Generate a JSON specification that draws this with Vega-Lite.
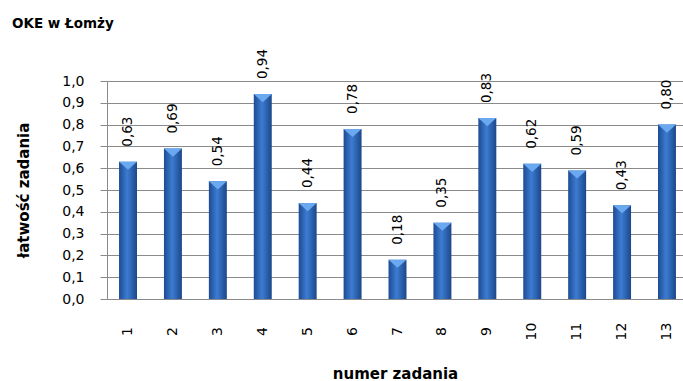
{
  "$schema": "https://vega.github.io/schema/vega-lite/v6.json",
  "width": 576,
  "height": 218,
  "autosize": {"type": "none"},
  "padding": {"left": 107, "top": 81, "right": 0, "bottom": 82},
  "background": "white",
  "config": {
    "locale": {"number": {"decimal": ",", "thousands": " ", "grouping": [3], "currency": ["", " zł"]}},
    "view": {"stroke": null},
    "font": "DejaVu Sans"
  },
  "title": {
    "text": "OKE w Łomży",
    "anchor": "start",
    "frame": "group",
    "dx": -95,
    "offset": 0,
    "baseline": "alphabetic",
    "dy": -8,
    "font": "DejaVu Sans",
    "fontWeight": "bold",
    "fontSize": 13.5,
    "color": "black"
  },
  "data": {
    "values": [
      {"zad": "1", "v": 0.63},
      {"zad": "2", "v": 0.69},
      {"zad": "3", "v": 0.54},
      {"zad": "4", "v": 0.94},
      {"zad": "5", "v": 0.44},
      {"zad": "6", "v": 0.78},
      {"zad": "7", "v": 0.18},
      {"zad": "8", "v": 0.35},
      {"zad": "9", "v": 0.83},
      {"zad": "10", "v": 0.62},
      {"zad": "11", "v": 0.59},
      {"zad": "12", "v": 0.43},
      {"zad": "13", "v": 0.80}
    ]
  },
  "encoding": {
    "x": {
      "field": "zad",
      "type": "ordinal",
      "sort": null,
      "scale": {"range": [0, 581], "paddingInner": 0.6, "paddingOuter": 0.268},
      "axis": {
        "title": "numer zadania",
        "titleFont": "DejaVu Sans",
        "titleFontWeight": "bold",
        "titleFontSize": 15,
        "titleColor": "black",
        "titleX": 288,
        "titleY": 67,
        "titleBaseline": "top",
        "labelAngle": -90,
        "labelAlign": "center",
        "labelBaseline": "middle",
        "labelPadding": 32,
        "labelFontSize": 14,
        "labelColor": "black",
        "ticks": false,
        "domain": false,
        "grid": false
      }
    },
    "y": {
      "field": "v",
      "type": "quantitative",
      "scale": {"domain": [0, 1]},
      "axis": {
        "title": "łatwość zadania",
        "titleFont": "DejaVu Sans",
        "titleFontWeight": "bold",
        "titleFontSize": 15,
        "titleColor": "black",
        "titleAngle": -90,
        "titleX": -84,
        "titleY": 109,
        "titleAlign": "center",
        "titleBaseline": "middle",
        "values": [0, 0.1, 0.2, 0.3, 0.4, 0.5, 0.6, 0.7, 0.8, 0.9, 1.0],
        "format": ".1f",
        "labelFontSize": 14,
        "labelColor": "black",
        "labelPadding": 16,
        "tickSize": 7,
        "tickColor": "#8a8a8a",
        "domainColor": "#8a8a8a",
        "gridColor": "#8a8a8a",
        "gridOpacity": 1,
        "grid": true
      }
    }
  },
  "layer": [
    {
      "mark": {
        "type": "bar",
        "color": {
          "gradient": "linear",
          "x1": 0, "y1": 0, "x2": 1, "y2": 0,
          "stops": [
            {"offset": 0, "color": "#1d4b92"},
            {"offset": 0.45, "color": "#3c7cd2"},
            {"offset": 1, "color": "#1c478a"}
          ]
        }
      }
    },
    {
      "mark": {
        "type": "point",
        "shape": "M-1,0L1,0L0,0.9Z",
        "size": 324,
        "filled": true,
        "color": "#6aa8ef",
        "opacity": 1,
        "strokeWidth": 0
      }
    },
    {
      "mark": {
        "type": "text",
        "angle": 270,
        "align": "left",
        "baseline": "middle",
        "dx": 15,
        "fontSize": 13.5,
        "color": "black"
      },
      "encoding": {
        "text": {"field": "v", "type": "quantitative", "format": ".2f"}
      }
    }
  ]
}
